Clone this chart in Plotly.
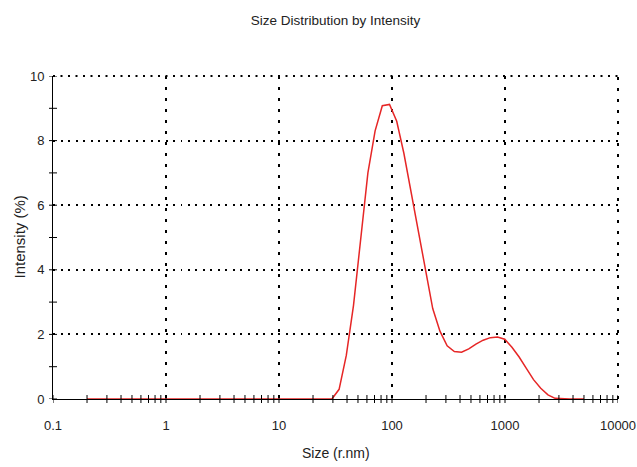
import plotly.graph_objects as go

# Size classes (radius, nm) and intensity (%)
sizes = [0.2, 0.2316, 0.2683, 0.3107, 0.3598, 0.4166, 0.4825, 0.5587, 0.647, 0.7494,
         0.868, 1.005, 1.164, 1.348, 1.561, 1.808, 2.094, 2.425, 2.808, 3.252,
         3.766, 4.361, 5.05, 5.848, 6.772, 7.843, 9.083, 10.52, 12.18, 14.11,
         16.34, 18.92, 21.91, 25.37, 29.39, 34.03, 39.41, 45.64, 52.85, 61.2,
         70.88, 82.09, 95.06, 110.1, 127.5, 147.7, 171.0, 198.0, 229.3, 265.6,
         307.6, 356.2, 412.5, 477.7, 553.2, 640.6, 741.9, 859.2, 995.0, 1152,
         1334, 1545, 1789, 2072, 2400, 2779, 3218, 3727, 4316, 5000]
intensity = [0, 0, 0, 0, 0, 0, 0, 0, 0, 0,
             0, 0, 0, 0, 0, 0, 0, 0, 0, 0,
             0, 0, 0, 0, 0, 0, 0, 0, 0, 0,
             0, 0, 0, 0, 0, 0.3, 1.35, 2.9, 5.0, 7.0,
             8.3, 9.08, 9.12, 8.6, 7.6, 6.4, 5.2, 3.9, 2.8, 2.1,
             1.65, 1.47, 1.45, 1.55, 1.7, 1.82, 1.9, 1.92, 1.85, 1.6,
             1.3, 0.95, 0.6, 0.33, 0.13, 0.02, 0, 0, 0, 0]

x_tickvals = [0.1, 1, 10, 100, 1000, 10000]
x_ticktext = ["0.1", "1", "10", "100", "1000", "10000"]
y_tickvals = [0, 2, 4, 6, 8, 10]

title_text = "Size Distribution by Intensity"
x_title = "Size (r.nm)"
y_title = "Intensity (%)"

# all tick positions (major + minor) drawn as ticks crossing the axis lines
x_allticks = [m * 10 ** e for e in range(-1, 4) for m in range(1, 10)] + [10000]
y_allticks = list(range(0, 11))

FONT = "Liberation Sans, Arial, sans-serif"
TXT = "#222"
DOT_H = "2px,5.5px"   # horizontal grid dots
DOT_V = "3px,8px"     # vertical grid dots

fig = go.Figure()
fig.add_trace(go.Scatter(x=sizes, y=intensity, mode="lines",
                         line=dict(color="#e62626", width=1.5),
                         cliponaxis=False, hoverinfo="skip", showlegend=False))

shapes = []
for v in x_allticks:
    shapes.append(dict(type="line", xref="x", yref="paper", ysizemode="pixel", yanchor=0,
                       x0=v, x1=v, y0=-4, y1=4, line=dict(color="black", width=1),
                       layer="above"))
for v in y_allticks:
    shapes.append(dict(type="line", xref="paper", yref="y", xsizemode="pixel", xanchor=0,
                       x0=-4, x1=4, y0=v, y1=v, line=dict(color="black", width=1),
                       layer="above"))
# dotted frame on top and right
shapes.append(dict(type="line", xref="paper", yref="paper", x0=0, x1=1, y0=1, y1=1,
                   line=dict(color="black", width=2, dash=DOT_H), layer="below"))
shapes.append(dict(type="line", xref="paper", yref="paper", x0=1, x1=1, y0=0, y1=1,
                   line=dict(color="black", width=2, dash=DOT_V), layer="below"))

annotations = [
    dict(text=x_title, xref="paper", yref="paper", x=0.5, y=0, yshift=-54,
         xanchor="center", yanchor="middle", showarrow=False,
         font=dict(family=FONT, size=14, color=TXT)),
    dict(text=y_title, xref="paper", yref="paper", x=0, y=0.5, xshift=-34,
         xanchor="center", yanchor="middle", textangle=-90, showarrow=False,
         font=dict(family=FONT, size=15, color=TXT)),
]

fig.update_layout(
    width=637, height=467,
    margin=dict(l=53, r=19, t=76, b=68),
    paper_bgcolor="white", plot_bgcolor="white",
    font=dict(family=FONT, size=13, color=TXT),
    title=dict(text=title_text, x=0.5, xanchor="center", xref="paper",
               y=1 - 20 / 467, yref="container", yanchor="middle",
               font=dict(family=FONT, size=13.5, color=TXT)),
    xaxis=dict(type="log", range=[-1, 4], tickvals=x_tickvals, ticktext=x_ticktext,
               ticks="", ticklabelstandoff=14, automargin=False,
               showline=True, linecolor="black", linewidth=1,
               tickfont=dict(size=13, color=TXT),
               showgrid=True, gridcolor="black", gridwidth=2, griddash=DOT_V,
               zeroline=False),
    yaxis=dict(range=[0, 10], tickvals=y_tickvals,
               ticks="", ticklabelstandoff=5, automargin=False,
               showline=True, linecolor="black", linewidth=1,
               tickfont=dict(size=13, color=TXT),
               showgrid=True, gridcolor="black", gridwidth=2, griddash=DOT_H,
               zeroline=False),
    shapes=shapes,
    annotations=annotations,
)

fig.write_html("out.html")
